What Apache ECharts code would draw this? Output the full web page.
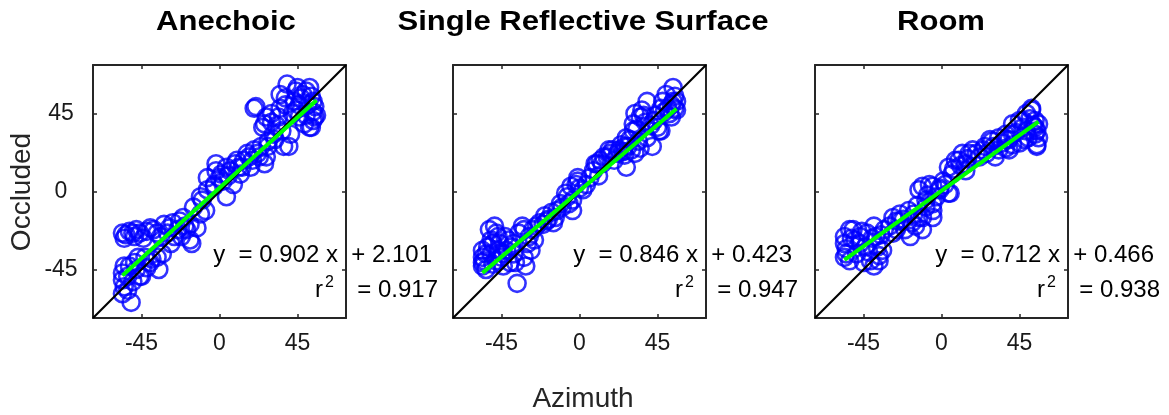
<!DOCTYPE html>
<html>
<head>
<meta charset="utf-8">
<script src="https://cdn.jsdelivr.net/npm/echarts@6/dist/echarts.min.js"></script>
<style>
html,body{margin:0;padding:0;background:#fff;}
#chart{width:1169px;height:415px;}
</style>
</head>
<body>
<div id="chart"></div>
<script>
// ---------------- DATA ----------------
const panelTitles = ['Anechoic', 'Single Reflective Surface', 'Room'];
const xAxisName = 'Azimuth';
const yAxisName = 'Occluded';
const tickValues = [-45, 0, 45];
const axisMin = -73;
const axisMax = 73;

const slopes = [0.902, 0.846, 0.712];
const intercepts = [2.101, 0.423, 0.466];
const rSquared = [0.917, 0.947, 0.938];

// Anechoic
const anechoicX = [-51,-56,-55,-56,-53,-56,-52,-55,-49,-46,-47,-45,-42,-40,-39,-36,-33,-35,-50,
  -56,-55,-52,-48,-49,-44,-42,-38,-34,-32,-29,-30,-28,-26,-24,-23,-22,-19,-17,-16,-21,-17,-13,-15,-11,-8,
  -10,-11,-7,-7,-3,-3,0,1,-2,4,4,5,8,10,11,12,14,16,17,18,20,22,24,26,27,28,
  20,21,26,25,27,28,30,31,32,34,35,35,36,37,39,40,41,43,44,44,46,47,48,49,51,52,52,53,54,54,55,56,54,
  -54,-50,-46,-40,-36,-27,-20,-53,-48,-43,-2,2,6,9,13,19,23,30,33,38,42,46,50,53,55,45,38,50];
const anechoicY = [-64,-59,-55,-51,-49,-47,-43,-43,-41,-49,-38,-49,-44,-41,-39,-38,-36,-45,-52,
  -24,-27,-23,-22,-26,-27,-23,-22,-26,-19,-21,-24,-30,-26,-22,-17,-26,-22,-28,-30,-15,-19,-21,-9,-13,-11,
  -5,-3,1,8,3,4,8,10,16,14,-3,9,4,18,14,10,18,22,20,14,24,22,26,16,20,26,
  48,49,39,37,43,29,45,33,30,43,48,56,35,26,62,26,33,52,58,47,43,54,56,39,50,60,37,37,52,46,43,44,41,
  -25,-24,-24,-21,-24,-18,-20,-57,-45,-38,12,6,12,16,14,18,20,40,38,50,45,50,44,55,49,60,54,58];

// Single Reflective Surface
const reflectX = [-56,-56,-56,-56,-54,-54,-52,-51,-50,-51,-49,-48,-47,-47,-45,-44,-43,-42,-40,-39,-38,-37,-36,-33,-32,-32,-31,-29,-28,-27,-26,
  -23,-21,-19,-18,-15,-14,-13,-11,-10,-8,-6,-4,-4,-5,-2,-1,-1,2,4,
  10,11,12,14,16,18,20,22,23,24,26,27,27,28,30,31,31,32,34,35,35,36,37,39,39,41,43,45,47,47,49,50,52,53,54,54,55,56,56,32,46,42,26,17,9,
  -55,-53,-50,-48,-46,-44,-41,-38,-35,-30,-25,-20,-16,-7,0,6,8,13,19,25,29,33,38,44,48,51,55,53];
const reflectY = [-34,-38,-41,-43,-45,-36,-22,-28,-30,-36,-20,-40,-26,-34,-38,-43,-26,-34,-41,-32,-30,-41,-53,-20,-22,-38,-43,-26,-34,-22,-28,
  -18,-19,-17,-16,-18,-15,-11,-7,-9,-1,-7,-11,-5,3,4,6,8,1,4,
  16,9,18,20,20,22,18,22,24,27,21,14,31,26,24,35,39,22,29,43,25,47,44,52,31,38,41,37,35,48,46,56,45,50,60,52,48,52,47,45,35,26,26,24,16,
  -40,-32,-42,-24,-30,-36,-28,-36,-24,-30,-20,-14,-12,-3,2,8,12,16,24,23,30,36,40,44,52,48,55,43];

// Room
const roomX = [-56,-56,-55,-56,-53,-53,-51,-50,-47,-47,-45,-43,-42,-41,-39,-39,-38,-36,-36,-34,-33,
  -28,-28,-26,-24,-24,-21,-18,-17,-16,-15,-13,-11,-11,-9,-9,-5,-5,-5,-13,-11,-7,-5,-1,-1,2,4,5,
  4,6,8,10,12,14,14,16,18,22,24,26,28,29,31,33,33,37,37,37,39,41,41,41,45,45,47,49,49,50,52,52,54,54,54,55,56,56,55,
  -55,-52,-49,-46,-44,-40,-37,-35,-30,-26,-22,-19,-14,-8,-3,1,7,11,15,20,25,30,35,39,43,47,51,53,55,48];
const roomY = [-26,-30,-36,-38,-40,-22,-22,-28,-30,-26,-41,-24,-35,-40,-20,-43,-26,-40,-37,-34,-22,
  -24,-15,-22,-17,-13,-22,-26,-18,-13,-20,-15,-22,-15,-9,-5,-7,-11,-15,1,3,4,3,2,1,4,-1,-1,
  14,10,18,18,22,16,12,22,24,20,24,22,30,29,20,24,31,33,30,25,24,27,33,39,41,28,41,45,35,31,48,47,41,37,33,27,39,31,26,
  -33,-27,-36,-23,-32,-27,-32,-25,-20,-17,-16,-11,-8,-2,-3,6,13,15,19,22,26,26,28,30,34,37,42,38,35,30];

const panelX = [anechoicX, reflectX, roomX];
const panelY = [anechoicY, reflectY, roomY];

// ---------------- LAYOUT ----------------
const gridLefts = [93, 453, 815];
const gridTop = 65;
const gridSize = 253;
const titleCenters = [226, 583, 941];
const FONT = "'Liberation Sans', Arial, Helvetica, sans-serif";
const TXT = '#262626';

const grids = [], xAxes = [], yAxes = [], series = [], graphics = [];

for (let i = 0; i < 3; i++) {
  grids.push({left: gridLefts[i], top: gridTop, width: gridSize, height: gridSize, containLabel: false});
  const axisLine = {show: true, onZero: false, lineStyle: {color: TXT, width: 2}};
  const tick = {show: true, inside: true, length: 4, lineStyle: {color: TXT, width: 1.5}, customValues: tickValues};
  xAxes.push({
    gridIndex: i, type: 'value', min: axisMin, max: axisMax, position: 'bottom',
    axisLine: axisLine, axisTick: tick, splitLine: {show: false},
    axisLabel: {show: true, customValues: tickValues, color: '#1a1a1a', fontFamily: FONT, fontSize: 23, margin: 14}
  });
  xAxes.push({
    gridIndex: i, type: 'value', min: axisMin, max: axisMax, position: 'top',
    axisLine: axisLine, axisTick: tick, splitLine: {show: false}, axisLabel: {show: false}
  });
  yAxes.push({
    gridIndex: i, type: 'value', min: axisMin, max: axisMax, position: 'left',
    axisLine: axisLine, axisTick: tick, splitLine: {show: false},
    axisLabel: {show: i === 0, customValues: tickValues, color: '#1a1a1a', fontFamily: FONT, fontSize: 23, margin: 32, align: 'center'}
  });
  yAxes.push({
    gridIndex: i, type: 'value', min: axisMin, max: axisMax, position: 'right',
    axisLine: axisLine, axisTick: tick, splitLine: {show: false}, axisLabel: {show: false}
  });

  const xs = panelX[i], ys = panelY[i];
  const pts = xs.map((x, k) => [x, ys[k]]);
  series.push({
    type: 'scatter', xAxisIndex: 2 * i, yAxisIndex: 2 * i, data: pts,
    symbol: 'circle', symbolSize: 17,
    itemStyle: {color: 'rgba(0,0,0,0)', borderColor: '#0000ff', borderWidth: 2.6},
    silent: true, z: 2
  });
  series.push({
    type: 'line', xAxisIndex: 2 * i, yAxisIndex: 2 * i,
    data: [[axisMin, axisMin], [axisMax, axisMax]],
    symbol: 'none', lineStyle: {color: '#000000', width: 2.2}, silent: true, z: 3
  });
  const xmin = Math.min(...xs), xmax = Math.max(...xs);
  series.push({
    type: 'line', xAxisIndex: 2 * i, yAxisIndex: 2 * i,
    data: [[xmin, slopes[i] * xmin + intercepts[i]], [xmax, slopes[i] * xmax + intercepts[i]]],
    symbol: 'none', lineStyle: {color: '#00ff00', width: 4}, silent: true, z: 4
  });

  // Titles
  graphics.push({
    type: 'text', x: titleCenters[i], y: 23, scaleX: 1.15, z: 10,
    style: {text: panelTitles[i], font: "bold 27px " + FONT, fill: '#000', textAlign: 'center', textVerticalAlign: 'middle'}
  });
  // Equation text
  const R = gridLefts[i] + gridSize;
  graphics.push({
    type: 'text', x: R + 86, y: 255, z: 10,
    style: {text: 'y  = ' + slopes[i].toFixed(3) + ' x  + ' + intercepts[i].toFixed(3), font: "24px " + FONT, fill: '#000', textAlign: 'right', textVerticalAlign: 'middle'}
  });
  graphics.push({
    type: 'text', x: R + 92, y: 290, z: 10,
    style: {text: '= ' + rSquared[i].toFixed(3), font: "24px " + FONT, fill: '#000', textAlign: 'right', textVerticalAlign: 'middle'}
  });
  graphics.push({
    type: 'text', x: R - 23, y: 290, z: 10,
    style: {text: 'r', font: "24px " + FONT, fill: '#000', textAlign: 'right', textVerticalAlign: 'middle'}
  });
  graphics.push({
    type: 'text', x: R - 21, y: 283, z: 10,
    style: {text: '2', font: "16px " + FONT, fill: '#000', textAlign: 'left', textVerticalAlign: 'middle'}
  });
}

graphics.push({
  type: 'text', x: 583, y: 399, z: 10,
  style: {text: xAxisName, font: "28px " + FONT, fill: TXT, textAlign: 'center', textVerticalAlign: 'middle'}
});
graphics.push({
  type: 'text', x: 22, y: 192, rotation: Math.PI / 2, z: 10,
  style: {text: yAxisName, font: "28px " + FONT, fill: TXT, textAlign: 'center', textVerticalAlign: 'middle'}
});

const chart = echarts.init(document.getElementById('chart'), null, {renderer: 'canvas'});
chart.setOption({
  animation: false,
  backgroundColor: '#ffffff',
  grid: grids,
  xAxis: xAxes,
  yAxis: yAxes,
  series: series,
  graphic: graphics
});
</script>
</body>
</html>
